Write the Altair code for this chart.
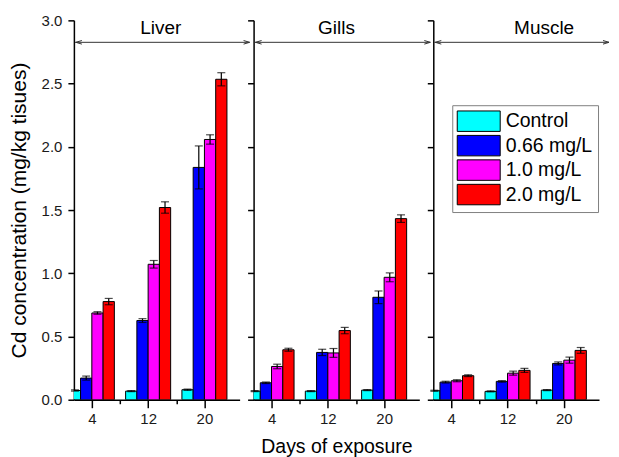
import altair as alt
import pandas as pd

# ---- data ----
tissues = ["Liver", "Gills", "Muscle"]
days = [4, 12, 20]
series = ["Control", "0.66 mg/L", "1.0 mg/L", "2.0 mg/L"]
colors = ["#00FFFF", "#0000FF", "#FF00FF", "#FF0000"]

liver_control = [0.073, 0.068, 0.079]
liver_066 = [0.171, 0.626, 1.837]
liver_10 = [0.686, 1.071, 2.058]
liver_20 = [0.776, 1.520, 2.534]
liver_control_err = [0.005, 0.004, 0.005]
liver_066_err = [0.016, 0.015, 0.170]
liver_10_err = [0.010, 0.030, 0.037]
liver_20_err = [0.025, 0.045, 0.052]

gills_control = [0.068, 0.068, 0.076]
gills_066 = [0.134, 0.374, 0.810]
gills_10 = [0.263, 0.370, 0.968]
gills_20 = [0.395, 0.547, 1.432]
gills_control_err = [0.004, 0.004, 0.004]
gills_066_err = [0.006, 0.025, 0.050]
gills_10_err = [0.018, 0.035, 0.035]
gills_20_err = [0.012, 0.025, 0.030]

muscle_control = [0.071, 0.066, 0.076]
muscle_066 = [0.139, 0.145, 0.287]
muscle_10 = [0.150, 0.210, 0.313]
muscle_20 = [0.190, 0.232, 0.390]
muscle_control_err = [0.004, 0.004, 0.004]
muscle_066_err = [0.007, 0.006, 0.012]
muscle_10_err = [0.008, 0.016, 0.024]
muscle_20_err = [0.007, 0.016, 0.023]

y_tick_values = [0, 0.25, 0.5, 0.75, 1.0, 1.25, 1.5, 1.75, 2.0, 2.25, 2.5, 2.75, 3.0]
x_tick_values = [4, 8, 12, 16, 20]

values = {
    "Liver": [liver_control, liver_066, liver_10, liver_20],
    "Gills": [gills_control, gills_066, gills_10, gills_20],
    "Muscle": [muscle_control, muscle_066, muscle_10, muscle_20],
}
errors = {
    "Liver": [liver_control_err, liver_066_err, liver_10_err, liver_20_err],
    "Gills": [gills_control_err, gills_066_err, gills_10_err, gills_20_err],
    "Muscle": [muscle_control_err, muscle_066_err, muscle_10_err, muscle_20_err],
}

rows = []
for t in tissues:
    for si, s in enumerate(series):
        for di, d in enumerate(days):
            rows.append({"tissue": t, "series": s, "idx": si, "day": d,
                         "value": values[t][si][di], "err": errors[t][si][di]})
df = pd.DataFrame(rows)

FONT = "Liberation Sans"
BAR_W = 1.6  # bar width in days
PW, PH = 166, 380

xscale = alt.Scale(domain=[1.45, 25], nice=False, zero=False)
yscale = alt.Scale(domain=[0, 3], nice=False, zero=True)
color_scale = alt.Scale(domain=series, range=colors)

legend = alt.Legend(
    title=None, orient="none", legendX=379, legendY=85,
    symbolType="M-2.1,-1H2.1V1H-2.1Z", symbolSize=420, symbolOffset=10.5,
    symbolStrokeColor="black", symbolStrokeWidth=1, symbolOpacity=1,
    labelFontSize=19.5, labelFont=FONT, labelColor="black", labelOffset=16,
    strokeColor="#808080", fillColor="white", padding=5, rowPadding=-1.5,
)


def panel(tissue, first, xtitle, header_x, rule_end):
    xaxis = alt.Axis(
        values=x_tick_values,
        labelExpr="datum.value % 8 == 4 ? datum.label : ''",
        tickSize={"condition": {"test": "datum.value % 8 == 4", "value": 8}, "value": 4},
        labelFontSize=15, labelFont=FONT, labelColor="#1a1a1a", labelPadding=4,
        labelFlush=False,
        domainColor="black", domainWidth=1.5, tickColor="black", tickWidth=1.5,
        grid=False, title=xtitle, titleFont=FONT, titleFontSize=19.5,
        titleFontWeight="normal", titleColor="black", titlePadding=11,
    )
    yaxis = alt.Axis(
        values=y_tick_values,
        labels=first,
        labelExpr="(datum.value * 2) % 1 == 0 ? format(datum.value, '.1f') : ''",
        tickSize={"condition": {"test": "(datum.value * 2) % 1 == 0", "value": 6}, "value": 3},
        labelFontSize=15, labelFont=FONT, labelColor="#1a1a1a", labelPadding=6,
        labelFlush=False,
        domainColor="black", domainWidth=1.5, tickColor="black", tickWidth=1.5,
        grid=False,
        title="Cd concentration (mg/kg tisues)" if first else None,
        titleFont=FONT, titleFontSize=21, titleFontWeight="normal",
        titleColor="black", titlePadding=12,
    )
    base = alt.Chart(df).transform_filter(
        alt.datum.tissue == tissue
    ).transform_calculate(
        x0=f"datum.day + (datum.idx - 2) * {BAR_W}",
        x1=f"datum.day + (datum.idx - 1) * {BAR_W}",
        xc=f"datum.day + (datum.idx - 1.5) * {BAR_W}",
        lo="datum.value - datum.err",
        hi="datum.value + datum.err",
    )
    bars = base.mark_bar(stroke="black", strokeWidth=1, clip=True).encode(
        x=alt.X("x0:Q", scale=xscale, axis=xaxis),
        x2="x1:Q",
        y=alt.Y("value:Q", scale=yscale, axis=yaxis),
        y2=alt.datum(0),
        fill=alt.Fill("series:N", scale=color_scale, legend=legend, sort=series),
    )
    err = base.mark_rule(color="black", strokeWidth=1.2).encode(
        x="xc:Q", y="lo:Q", y2="hi:Q")
    cap_hi = base.mark_tick(color="black", orient="horizontal", size=8, thickness=1.2).encode(
        x="xc:Q", y="hi:Q")
    cap_lo = base.mark_tick(color="black", orient="horizontal", size=8, thickness=1.2).encode(
        x="xc:Q", y="lo:Q")

    hdr = pd.DataFrame({"t": [tissue]})
    rule = alt.Chart(hdr).mark_rule(color="#333333", strokeWidth=1).encode(
        x=alt.value(1), x2=alt.value(rule_end), y=alt.value(22))
    la = alt.Chart(hdr).mark_point(
        shape="M1,-0.6L-1,0L1,0.6", filled=False, size=36, color="#333333", strokeWidth=1,
        opacity=1).encode(x=alt.value(5), y=alt.value(22))
    ra = alt.Chart(hdr).mark_point(
        shape="M-1,-0.6L1,0L-1,0.6", filled=False, size=36, color="#333333", strokeWidth=1,
        opacity=1).encode(x=alt.value(rule_end - 3), y=alt.value(22))
    title = alt.Chart(hdr).mark_text(
        font=FONT, fontSize=19, color="black", baseline="middle", align="center"
    ).encode(x=alt.value(header_x), y=alt.value(8), text="t:N")

    return alt.layer(bars, err, cap_lo, cap_hi, rule, la, ra, title).properties(
        width=PW, height=PH)


chart = alt.hconcat(
    panel("Liver", True, None, 87, 176),
    panel("Gills", False, "Days of exposure", 83, 177),
    panel("Muscle", False, None, 111, 176),
    spacing=14, bounds="flush",
).properties(
    padding={"left": 0, "top": 5, "right": 0, "bottom": 0}
).configure_view(stroke=None)

chart.save("out.html", embed_options={"renderer": "svg", "actions": False})
